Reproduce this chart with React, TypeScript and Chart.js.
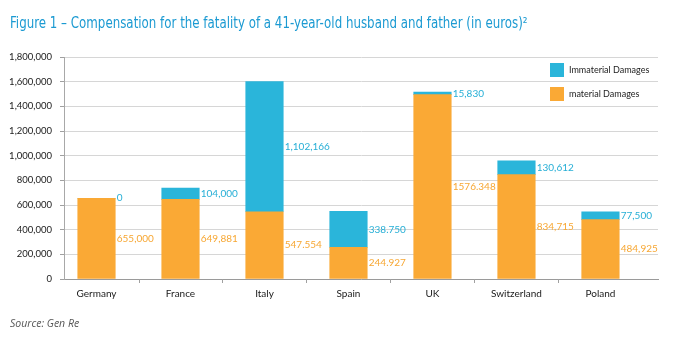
import React, { useEffect, useRef } from 'react';
import { Chart, registerables } from 'chart.js';

Chart.register(...registerables);

const categories = ['Germany', 'France', 'Italy', 'Spain', 'UK', 'Switzerland', 'Poland'];
const materialValues = [655000, 645000, 545000, 256000, 1495000, 846000, 481000];
const immaterialValues = [0, 93000, 1055000, 292000, 21000, 113000, 64000];
const materialLabels = ['655,000', '649,881', '547.554', '244.927', '1576.348', '834,715', '484,925'];
const immaterialLabels = ['0', '104,000', '1,102,166', '338.750', '15,830', '130,612', '77,500'];
const seriesNames = ['material Damages', 'Immaterial Damages'];
const yMax = 1800000;
const yStep = 200000;

const ORANGE = '#FAA935';
const BLUE = '#2AB5DA';
const FONT = 'Lato, "Open Sans", sans-serif';

const extrasPlugin = {
  id: 'extras',
  afterDatasetsDraw(chart: any) {
    const ctx = chart.ctx;
    const area = chart.chartArea;
    const xs = chart.scales.x;
    ctx.save();
    // x-axis tick marks between categories
    ctx.strokeStyle = '#a0a0a0';
    ctx.lineWidth = 1;
    for (let i = 0; i < categories.length - 1; i++) {
      const px = Math.round(xs.getPixelForValue(i + 0.5)) + 0.5;
      ctx.beginPath();
      ctx.moveTo(px, area.bottom);
      ctx.lineTo(px, area.bottom + 4);
      ctx.stroke();
    }
    // value labels
    ctx.font = '10px ' + FONT;
    ctx.textBaseline = 'middle';
    ctx.textAlign = 'left';
    const labelSets = [materialLabels, immaterialLabels];
    chart.data.datasets.forEach((ds: any, di: number) => {
      const meta = chart.getDatasetMeta(di);
      ctx.fillStyle = ds.labelColor;
      meta.data.forEach((el: any, i: number) => {
        const p = el.getProps(['x', 'y', 'base', 'width'], true);
        const ym = (p.y + p.base) / 2;
        ctx.fillText(labelSets[di][i], p.x + p.width / 2 + 1.5, ym);
      });
    });
    // legend (top right inside plot)
    ctx.font = '9px ' + FONT;
    const order = [1, 0];
    order.forEach((di, k) => {
      const ds = chart.data.datasets[di];
      const bx = area.right - 108;
      const by = area.top + 6 + k * 24;
      ctx.fillStyle = ds.backgroundColor;
      ctx.fillRect(bx, by, 14, 14);
      ctx.fillStyle = '#222';
      ctx.fillText(ds.label, bx + 19, by + 7.5);
    });
    ctx.restore();
  },
};

export default function App() {
  const ref = useRef<HTMLCanvasElement | null>(null);
  useEffect(() => {
    if (!ref.current) return;
    const chart = new Chart(ref.current, {
      type: 'bar',
      data: {
        datasets: [
          {
            label: seriesNames[0],
            data: materialValues.map((v, i) => ({ x: i, y: v })),
            backgroundColor: ORANGE,
            labelColor: '#F7A733',
            barThickness: 37.5,
          } as any,
          {
            label: seriesNames[1],
            data: immaterialValues.map((v, i) => ({ x: i, y: v })),
            backgroundColor: BLUE,
            labelColor: '#27AFD6',
            barThickness: 37.5,
          } as any,
        ],
      },
      options: {
        animation: false,
        responsive: false,
        devicePixelRatio: 1,
        layout: { padding: { top: 57, right: 16, bottom: 0, left: 0 } },
        plugins: { legend: { display: false }, tooltip: { enabled: false } },
        scales: {
          x: {
            type: 'linear',
            stacked: true,
            offset: false,
            min: -0.387,
            max: 6.685,
            afterBuildTicks: (s: any) => {
              s.ticks = categories.map((_, i) => ({ value: i }));
            },
            afterFit: (s: any) => {
              s.height = 76;
            },
            grid: { display: false, offset: false },
            border: { display: true, color: '#9a9a9a', width: 1 },
            ticks: {
              autoSkip: false,
              maxRotation: 0,
              padding: 1,
              color: '#1a1a1a',
              font: { family: FONT, size: 10 },
              callback: (v: any) => categories[v] ?? '',
            },
          },
          y: {
            stacked: true,
            min: 0,
            max: yMax,
            afterFit: (s: any) => {
              s.width = 64;
            },
            grid: { color: '#d6d6d6', lineWidth: 1, tickLength: 4, tickColor: '#a0a0a0' },
            border: { display: true, color: '#a8a8a8', width: 1 },
            ticks: {
              stepSize: yStep,
              padding: 8,
              color: '#1a1a1a',
              font: { family: FONT, size: 9.5 },
              callback: (v: any) => Number(v).toLocaleString('en-US'),
            },
          },
        },
      },
      plugins: [extrasPlugin],
    } as any);
    return () => chart.destroy();
  }, []);

  return (
    <div style={{ position: 'fixed', left: 0, top: 0, width: 674, height: 355, background: '#fff', overflow: 'hidden' }}>
      <canvas ref={ref} width={674} height={355} style={{ position: 'absolute', left: 0, top: 0, width: 674, height: 355 }} />
      <div
        style={{
          position: 'absolute',
          left: 10,
          top: 14,
          fontFamily: '"DejaVu Sans Condensed", sans-serif',
          fontSize: 15,
          color: '#1B9AD2',
          whiteSpace: 'nowrap',
          lineHeight: '18px',
          transform: 'scaleX(0.878)',
          transformOrigin: 'left top',
        }}
      >
        Figure 1 – Compensation for the fatality of a 41-year-old husband and father (in euros)²
      </div>
      <div
        style={{
          position: 'absolute',
          left: 10,
          top: 316,
          fontFamily: '"Open Sans", sans-serif',
          fontStyle: 'italic',
          fontSize: 10.5,
          color: '#555',
          whiteSpace: 'nowrap',
          lineHeight: '14px',
        }}
      >
        Source: Gen Re
      </div>
    </div>
  );
}
